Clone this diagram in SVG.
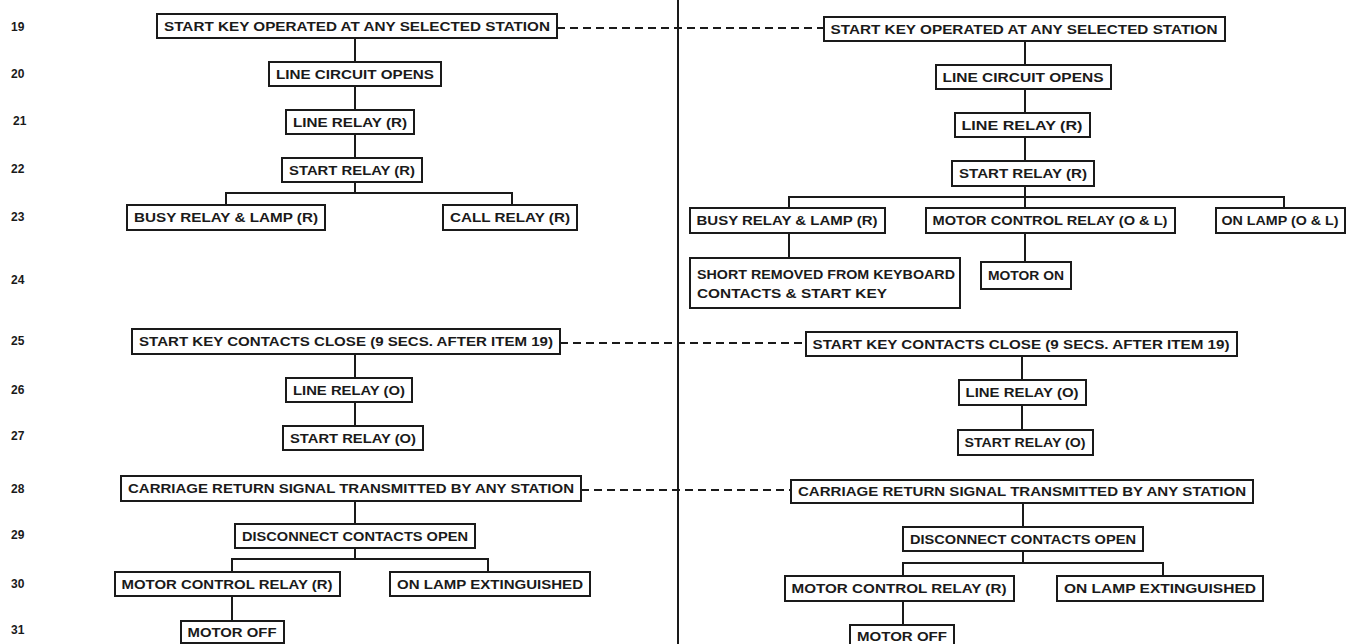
<svg xmlns="http://www.w3.org/2000/svg" width="1352" height="644" viewBox="0 0 1352 644">
<style>
.bg{fill:#ffffff}
.box{fill:#ffffff;stroke:#1a1a1a;stroke-width:2}
.t{font-family:"Liberation Sans",Arial,sans-serif;font-weight:bold;font-size:12px;fill:#1a1a1a;text-anchor:middle}
.tl{font-family:"Liberation Sans",Arial,sans-serif;font-weight:bold;font-size:12px;fill:#1a1a1a}
.num{font-family:"Liberation Sans",Arial,sans-serif;font-weight:bold;font-size:12px;fill:#1a1a1a}
.ln{stroke:#1a1a1a;stroke-width:2;fill:none}
.dash{stroke:#1a1a1a;stroke-width:2;fill:none;stroke-dasharray:8 5}
</style>
<rect class="bg" x="0" y="0" width="1352" height="644"/>

<g id="row-numbers">
<text class="num" x="11" y="31">19</text>
<text class="num" x="11" y="78">20</text>
<text class="num" x="13" y="125">21</text>
<text class="num" x="11" y="173">22</text>
<text class="num" x="11" y="221">23</text>
<text class="num" x="11" y="284">24</text>
<text class="num" x="11" y="345">25</text>
<text class="num" x="11" y="394">26</text>
<text class="num" x="11" y="440">27</text>
<text class="num" x="11" y="493">28</text>
<text class="num" x="11" y="539">29</text>
<text class="num" x="11" y="588">30</text>
<text class="num" x="11" y="634">31</text>
</g>

<g id="connectors">
<line class="ln" x1="678" y1="0" x2="678" y2="644"/>
<line class="ln" x1="355" y1="38" x2="355" y2="62"/>
<line class="ln" x1="355" y1="86" x2="355" y2="110"/>
<line class="ln" x1="355" y1="134" x2="355" y2="158"/>
<line class="ln" x1="355" y1="182" x2="355" y2="193"/>
<polyline class="ln" points="226,205 226,193 512,193 512,205"/>
<line class="ln" x1="355" y1="354" x2="355" y2="378"/>
<line class="ln" x1="355" y1="402" x2="355" y2="426"/>
<line class="ln" x1="355" y1="501" x2="355" y2="524"/>
<line class="ln" x1="355" y1="548" x2="355" y2="559"/>
<polyline class="ln" points="232,572 232,559 488,559 488,572"/>
<line class="ln" x1="232" y1="596" x2="232" y2="621"/>
<line class="ln" x1="1025" y1="41" x2="1025" y2="65"/>
<line class="ln" x1="1025" y1="89" x2="1025" y2="113"/>
<line class="ln" x1="1025" y1="137" x2="1025" y2="161"/>
<line class="ln" x1="1025" y1="186" x2="1025" y2="208"/>
<polyline class="ln" points="789,208 789,197 1284,197 1284,208"/>
<line class="ln" x1="789" y1="233" x2="789" y2="258"/>
<line class="ln" x1="1025" y1="233" x2="1025" y2="262"/>
<line class="ln" x1="1022" y1="356" x2="1022" y2="380"/>
<line class="ln" x1="1022" y1="405" x2="1022" y2="430"/>
<line class="ln" x1="1023" y1="503" x2="1023" y2="527"/>
<line class="ln" x1="1023" y1="551" x2="1023" y2="563"/>
<polyline class="ln" points="903,576 903,563 1163,563 1163,576"/>
<line class="ln" x1="903" y1="601" x2="903" y2="625"/>
<line class="dash" x1="557" y1="28" x2="824" y2="28"/>
<line class="dash" x1="560" y1="343" x2="806" y2="343"/>
<line class="dash" x1="581" y1="490" x2="791" y2="490"/>
</g>

<g id="L19"><rect class="box" x="157" y="14" width="400" height="24"/><text class="t" x="357" y="30.5" textLength="386" lengthAdjust="spacingAndGlyphs">START KEY OPERATED AT ANY SELECTED STATION</text></g>
<g id="L20"><rect class="box" x="269" y="62" width="172" height="24"/><text class="t" x="355" y="78.5" textLength="158" lengthAdjust="spacingAndGlyphs">LINE CIRCUIT OPENS</text></g>
<g id="L21"><rect class="box" x="286" y="110" width="128" height="24"/><text class="t" x="350" y="126.5" textLength="114" lengthAdjust="spacingAndGlyphs">LINE RELAY (R)</text></g>
<g id="L22"><rect class="box" x="282" y="158" width="140" height="24"/><text class="t" x="352" y="174.5" textLength="126" lengthAdjust="spacingAndGlyphs">START RELAY (R)</text></g>
<g id="L23a"><rect class="box" x="127" y="205" width="198" height="25"/><text class="t" x="226" y="222" textLength="184" lengthAdjust="spacingAndGlyphs">BUSY RELAY &amp; LAMP (R)</text></g>
<g id="L23b"><rect class="box" x="443" y="205" width="134" height="25"/><text class="t" x="510" y="222" textLength="120" lengthAdjust="spacingAndGlyphs">CALL RELAY (R)</text></g>
<g id="L25"><rect class="box" x="132" y="329" width="428" height="25"/><text class="t" x="346" y="346" textLength="414" lengthAdjust="spacingAndGlyphs">START KEY CONTACTS CLOSE (9 SECS. AFTER ITEM 19)</text></g>
<g id="L26"><rect class="box" x="286" y="378" width="126" height="24"/><text class="t" x="349" y="394.5" textLength="112" lengthAdjust="spacingAndGlyphs">LINE RELAY (O)</text></g>
<g id="L27"><rect class="box" x="283" y="426" width="140" height="24"/><text class="t" x="353" y="442.5" textLength="126" lengthAdjust="spacingAndGlyphs">START RELAY (O)</text></g>
<g id="L28"><rect class="box" x="121" y="476" width="460" height="25"/><text class="t" x="351" y="493" textLength="446" lengthAdjust="spacingAndGlyphs">CARRIAGE RETURN SIGNAL TRANSMITTED BY ANY STATION</text></g>
<g id="L29"><rect class="box" x="235" y="524" width="240" height="24"/><text class="t" x="355" y="540.5" textLength="226" lengthAdjust="spacingAndGlyphs">DISCONNECT CONTACTS OPEN</text></g>
<g id="L30a"><rect class="box" x="115" y="572" width="225" height="24"/><text class="t" x="227" y="588.5" textLength="211" lengthAdjust="spacingAndGlyphs">MOTOR CONTROL RELAY (R)</text></g>
<g id="L30b"><rect class="box" x="390" y="572" width="200" height="24"/><text class="t" x="490" y="588.5" textLength="186" lengthAdjust="spacingAndGlyphs">ON LAMP EXTINGUISHED</text></g>
<g id="L31"><rect class="box" x="181" y="621" width="103" height="22"/><text class="t" x="232" y="636.5" textLength="89" lengthAdjust="spacingAndGlyphs">MOTOR OFF</text></g>

<g id="R19"><rect class="box" x="824" y="17" width="401" height="24"/><text class="t" x="1024" y="33.5" textLength="387" lengthAdjust="spacingAndGlyphs">START KEY OPERATED AT ANY SELECTED STATION</text></g>
<g id="R20"><rect class="box" x="936" y="65" width="175" height="24"/><text class="t" x="1023" y="81.5" textLength="161" lengthAdjust="spacingAndGlyphs">LINE CIRCUIT OPENS</text></g>
<g id="R21"><rect class="box" x="955" y="113" width="135" height="24"/><text class="t" x="1022" y="129.5" textLength="121" lengthAdjust="spacingAndGlyphs">LINE RELAY (R)</text></g>
<g id="R22"><rect class="box" x="952" y="161" width="142" height="25"/><text class="t" x="1023" y="178" textLength="128" lengthAdjust="spacingAndGlyphs">START RELAY (R)</text></g>
<g id="R23a"><rect class="box" x="690" y="208" width="195" height="25"/><text class="t" x="787" y="225" textLength="181" lengthAdjust="spacingAndGlyphs">BUSY RELAY &amp; LAMP (R)</text></g>
<g id="R23b"><rect class="box" x="926" y="208" width="249" height="25"/><text class="t" x="1050" y="225" textLength="235" lengthAdjust="spacingAndGlyphs">MOTOR CONTROL RELAY (O &amp; L)</text></g>
<g id="R23c"><rect class="box" x="1216" y="208" width="129" height="25"/><text class="t" x="1280" y="225" textLength="117" lengthAdjust="spacingAndGlyphs">ON LAMP (O &amp; L)</text></g>
<g id="R24a"><rect class="box" x="690" y="258" width="270" height="50"/><text class="tl" x="697" y="279" textLength="258" lengthAdjust="spacingAndGlyphs">SHORT REMOVED FROM KEYBOARD</text><text class="tl" x="697" y="298" textLength="190" lengthAdjust="spacingAndGlyphs">CONTACTS &amp; START KEY</text></g>
<g id="R24b"><rect class="box" x="981" y="262" width="90" height="27"/><text class="t" x="1026" y="280" textLength="76" lengthAdjust="spacingAndGlyphs">MOTOR ON</text></g>
<g id="R25"><rect class="box" x="806" y="332" width="431" height="24"/><text class="t" x="1021" y="348.5" textLength="417" lengthAdjust="spacingAndGlyphs">START KEY CONTACTS CLOSE (9 SECS. AFTER ITEM 19)</text></g>
<g id="R26"><rect class="box" x="959" y="380" width="127" height="25"/><text class="t" x="1022" y="397" textLength="113" lengthAdjust="spacingAndGlyphs">LINE RELAY (O)</text></g>
<g id="R27"><rect class="box" x="958" y="430" width="135" height="25"/><text class="t" x="1025" y="447" textLength="121" lengthAdjust="spacingAndGlyphs">START RELAY (O)</text></g>
<g id="R28"><rect class="box" x="791" y="480" width="462" height="23"/><text class="t" x="1022" y="496" textLength="448" lengthAdjust="spacingAndGlyphs">CARRIAGE RETURN SIGNAL TRANSMITTED BY ANY STATION</text></g>
<g id="R29"><rect class="box" x="903" y="527" width="240" height="24"/><text class="t" x="1023" y="543.5" textLength="226" lengthAdjust="spacingAndGlyphs">DISCONNECT CONTACTS OPEN</text></g>
<g id="R30a"><rect class="box" x="785" y="576" width="229" height="25"/><text class="t" x="899" y="593" textLength="215" lengthAdjust="spacingAndGlyphs">MOTOR CONTROL RELAY (R)</text></g>
<g id="R30b"><rect class="box" x="1057" y="576" width="206" height="25"/><text class="t" x="1160" y="593" textLength="192" lengthAdjust="spacingAndGlyphs">ON LAMP EXTINGUISHED</text></g>
<g id="R31"><rect class="box" x="850" y="625" width="104" height="22"/><text class="t" x="902" y="640.5" textLength="90" lengthAdjust="spacingAndGlyphs">MOTOR OFF</text></g>
</svg>
